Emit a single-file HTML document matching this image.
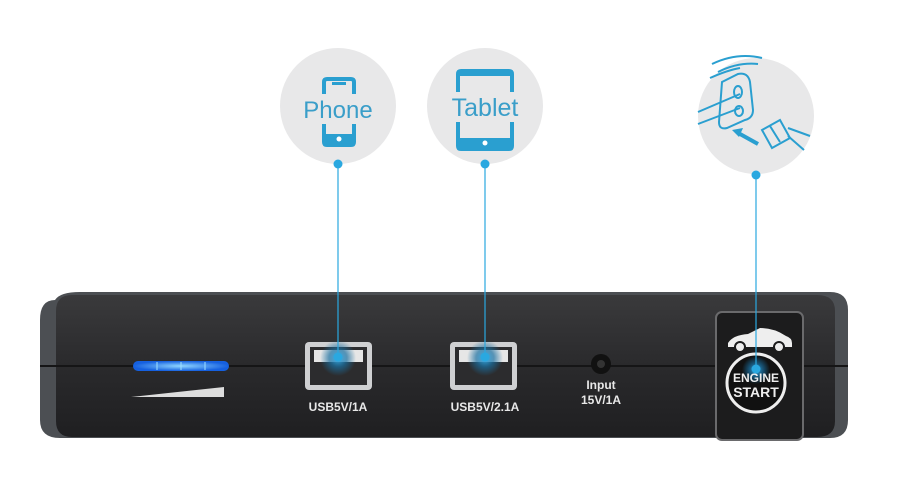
<!DOCTYPE html>
<html><head><style>
html,body{margin:0;padding:0;background:#fff;}
body{width:902px;height:478px;overflow:hidden;}
svg{display:block;font-family:"Liberation Sans",Arial,sans-serif;}
</style></head><body>
<svg width="902" height="478" viewBox="0 0 902 478" xmlns="http://www.w3.org/2000/svg">
<defs>
<linearGradient id="body" x1="0" y1="0" x2="0" y2="1">
<stop offset="0" stop-color="#3a3a3c"/><stop offset="0.5" stop-color="#2a2a2c"/><stop offset="1" stop-color="#1f1f21"/>
</linearGradient>
<radialGradient id="glow"><stop offset="0" stop-color="#3ab4f0"/><stop offset="0.5" stop-color="#1a6fa0" stop-opacity="0.7"/><stop offset="1" stop-color="#1a6fa0" stop-opacity="0"/></radialGradient>
<radialGradient id="led"><stop offset="0" stop-color="#8fd6ff"/><stop offset="1" stop-color="#1560e0"/></radialGradient>
</defs>
<rect width="902" height="478" fill="#fff"/>
<circle cx="338" cy="106" r="58" fill="#e8e8e9"/>
<circle cx="485" cy="106" r="58" fill="#e8e8e9"/>
<circle cx="756" cy="116" r="58" fill="#e8e8e9"/>
<g fill="none" stroke="#2a9fd0" stroke-width="4">
<path d="M324 94 V82 q0-3 3-3 h24 q3 0 3 3 V94"/>
<path d="M324 124 V142 q0 3 3 3 h24 q3 0 3-3 V124"/>
<path d="M458 92 V74 q0-3 3-3 h48 q3 0 3 3 V92"/>
<path d="M458 122 V146 q0 3 3 3 h48 q3 0 3-3 V122"/>
</g>
<rect x="332" y="82" width="14" height="3" fill="#2a9fd0"/>
<rect x="324" y="134" width="30" height="11" fill="#2a9fd0"/>
<circle cx="339" cy="139" r="2.5" fill="#fff"/>
<rect x="458" y="138" width="54" height="11" fill="#2a9fd0"/>
<circle cx="485" cy="143" r="2.5" fill="#fff"/>
<rect x="458" y="71" width="54" height="5" fill="#2a9fd0"/>
<text x="338" y="118" font-size="24" fill="#3a9ec9" text-anchor="middle">Phone</text>
<text x="485" y="116" font-size="25" fill="#3a9ec9" text-anchor="middle">Tablet</text>
<g fill="none" stroke="#2a9fd0" stroke-width="2">
<path d="M698 112 l42-18 M698 124 l42-16"/>
<path d="M722 82 l16-8 q10-2 12 8 l3 28 q0 8-8 10 l-18 8 q-8 2-8-6 z"/>
<path d="M718 72 q20-10 40-8 M712 64 q25-12 50-6 M710 78 q18-8 30-10"/>
<ellipse cx="738" cy="92" rx="4" ry="6"/><ellipse cx="739" cy="111" rx="4" ry="5"/>
<path d="M762 130 l18-10 l10 18 l-18 10 z M770 126 l10 16"/>
<path d="M788 128 l22 8 M788 136 l16 14"/>
</g>
<path d="M740 134 l18 10" stroke="#2a9fd0" stroke-width="4"/>
<path d="M732 130 l11-2 l-4 9 z" fill="#2a9fd0"/>
<path d="M55 300 q5-8 25-8 h750 q18 0 18 18 v110 q0 18-18 18 h-770 q-20 0-20-18 v-100 q0-20 15-20z" fill="#4c4f53"/>
<path d="M72 295 h745 q18 0 18 16 v110 q0 16-18 16 h-745 q-16 0-16-16 v-110 q0-16 16-16z" fill="url(#body)"/>
<rect x="40" y="365" width="808" height="2" fill="#151516"/>
<rect x="133" y="361" width="96" height="10" rx="5" fill="url(#led)"/>
<g stroke="#9fe0ff" stroke-width="1"><line x1="157" y1="362" x2="157" y2="370"/><line x1="181" y1="362" x2="181" y2="370"/><line x1="205" y1="362" x2="205" y2="370"/></g>
<polygon points="131,397 224,387 224,397" fill="#ddd"/>
<g>
<rect x="305" y="342" width="67" height="48" rx="4" fill="#cfd0d2"/>
<rect x="310" y="347" width="57" height="38" fill="#2c2c2e"/>
<rect x="314" y="350" width="49" height="12" fill="#e6e6e6"/>
<circle cx="338" cy="358" r="18" fill="url(#glow)"/>
<rect x="450" y="342" width="67" height="48" rx="4" fill="#cfd0d2"/>
<rect x="455" y="347" width="57" height="38" fill="#2c2c2e"/>
<rect x="459" y="350" width="49" height="12" fill="#e6e6e6"/>
<circle cx="485" cy="358" r="18" fill="url(#glow)"/>
</g>
<text x="338" y="411" font-size="12" font-weight="bold" fill="#e8e8e8" text-anchor="middle">USB5V/1A</text>
<text x="485" y="411" font-size="12" font-weight="bold" fill="#e8e8e8" text-anchor="middle">USB5V/2.1A</text>
<circle cx="601" cy="364" r="10" fill="#111"/><circle cx="601" cy="364" r="4" fill="#333"/>
<text x="601" y="389" font-size="12" font-weight="bold" fill="#e8e8e8" text-anchor="middle">Input</text>
<text x="601" y="404" font-size="12" font-weight="bold" fill="#e8e8e8" text-anchor="middle">15V/1A</text>
<rect x="716" y="312" width="87" height="128" rx="6" fill="#1c1c1d" stroke="#6a6a6c" stroke-width="2"/>
<path d="M728 343 q5-8 20-9 l12-6 q14 0 26 8 q6 2 6 7 v4 h-64z" fill="#eee"/>
<circle cx="740" cy="347" r="5" fill="#eee" stroke="#1c1c1d" stroke-width="2"/>
<circle cx="779" cy="347" r="5" fill="#eee" stroke="#1c1c1d" stroke-width="2"/>
<circle cx="756" cy="383" r="29" fill="#111" stroke="#eee" stroke-width="3"/>
<circle cx="756" cy="370" r="14" fill="url(#glow)"/>
<text x="756" y="382" font-size="12" font-weight="bold" fill="#eee" text-anchor="middle">ENGINE</text>
<text x="756" y="397" font-size="14" font-weight="bold" fill="#eee" text-anchor="middle">START</text>
<g stroke="#2aa8e0" stroke-width="1.2">
<line x1="338" y1="165" x2="338" y2="357"/>
<line x1="485" y1="165" x2="485" y2="357"/>
<line x1="756" y1="175" x2="756" y2="369"/>
</g>
<g fill="#2aa8e0">
<circle cx="338" cy="164" r="4.5"/><circle cx="485" cy="164" r="4.5"/><circle cx="756" cy="175" r="4.5"/>
<circle cx="338" cy="357" r="4.5"/><circle cx="485" cy="357" r="4.5"/><circle cx="756" cy="369" r="4.5"/>
</g>
</svg>
</body></html>
